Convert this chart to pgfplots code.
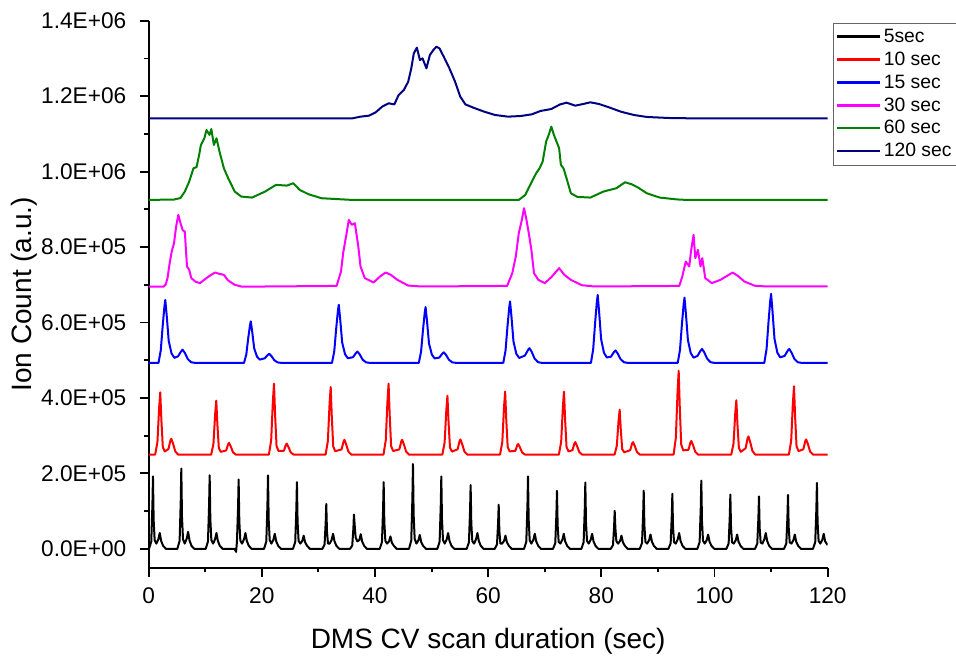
\documentclass[border=0pt]{standalone}
\usepackage{pgfplots}
\pgfplotsset{compat=1.18}
\usepackage{fontspec}
\setmainfont{Liberation Sans}
\definecolor{cnavy}{RGB}{0,0,128}
\definecolor{cgreen}{RGB}{0,128,0}
\definecolor{cmag}{RGB}{255,0,255}
\begin{document}
\begin{tikzpicture}
\useasboundingbox (-111.5pt,-66.2pt) rectangle (605.5pt,425.8pt);
\begin{axis}[
  at={(0pt,0pt)}, anchor=south west,
  scale only axis, width=509.25pt, height=410.25pt,
  xmin=0, xmax=120, ymin=-50000, ymax=1400000,
  axis x line*=bottom, axis y line*=left,
  axis line style={line width=1.4pt,-},
  tick style={black, line width=1.4pt},
  tick align=outside,
  major tick length=6.75pt, minor tick length=3.5pt,
  xtick={0,20,40,60,80,100,120}, xticklabels={0,20,40,60,80,100,120},
  minor x tick num=1,
  ytick={0,200000,400000,600000,800000,1000000,1200000,1400000},
  yticklabels={0.0E+00,2.0E+05,4.0E+05,6.0E+05,8.0E+05,1.0E+06,1.2E+06,1.4E+06},
  minor y tick num=1,
  scaled y ticks=false,
  tick label style={font=\fontsize{17pt}{20pt}\selectfont},
  yticklabel style={xshift=-6.5pt},
  xticklabel style={yshift=-4.5pt},
  xlabel={DMS CV scan duration (sec)},
  xlabel style={at={(axis description cs:0.5,-0.1468)}, anchor=base, font=\fontsize{21pt}{25pt}\selectfont},
  ylabel={Ion Count (a.u.)},
  ylabel style={at={(axis description cs:-0.1725,0.5)}, anchor=base, font=\fontsize{21pt}{25pt}\selectfont},
  legend cell align=left,
  legend style={at={(1.0078,0.9963)}, anchor=north west, draw=black!60, fill=white,
    font=\fontsize{14.5pt}{17.5pt}\selectfont, inner xsep=2pt, inner ysep=2.5pt, row sep=1.6pt},
  legend image code/.code={\draw[#1, line width=1.9pt] (0pt,0pt) -- (32pt,0pt);},
  every axis plot/.append style={line width=1.5pt, line join=round, mark=none},
]
\addplot[color=black, line width=1.5pt] coordinates {
(0,0) (0.06,0) (0.46,19200) (0.66,115200) (0.76,192000) (0.88,76800) (1.06,23040) (1.36,14000) (1.71,25200) (1.96,42000) (2.21,21000) (2.56,8000) (3.06,0)
(5.07,0) (5.47,21300) (5.67,127800) (5.77,213000) (5.89,85200) (6.07,25560) (6.37,14000) (6.72,27000) (6.97,45000) (7.22,22500) (7.57,8000) (8.07,0)
(10.08,0) (10.48,19500) (10.68,117000) (10.78,195000) (10.9,78000) (11.08,23400) (11.38,14000) (11.73,25200) (11.98,42000) (12.23,21000) (12.58,8000) (13.08,0)
(15.2,0) (15.45,-8000) (15.6,18400) (15.8,110400) (15.9,184000) (16.02,73600) (16.2,22080) (16.5,14000) (16.85,25200) (17.1,42000) (17.35,21000) (17.7,8000) (18.2,0)
(20.39,0) (20.79,19500) (20.99,117000) (21.09,195000) (21.21,78000) (21.39,23400) (21.69,14000) (22.04,24000) (22.29,40000) (22.54,20000) (22.89,8000) (23.39,0)
(25.5,0) (25.9,17700) (26.1,106200) (26.2,177000) (26.32,70800) (26.5,21240) (26.8,14000) (27.15,21000) (27.4,35000) (27.65,17500) (28,8000) (28.5,0)
(30.69,0) (31.09,11900) (31.29,71400) (31.39,119000) (31.51,47600) (31.69,14280) (31.99,14000) (32.34,24000) (32.59,40000) (32.84,20000) (33.19,8000) (33.69,0)
(35.58,0) (35.98,9100) (36.18,54600) (36.28,91000) (36.4,65000) (36.58,30000) (36.88,20000) (37.23,23400) (37.48,39000) (37.73,19500) (38.08,8000) (38.58,0)
(40.83,0) (41.23,17700) (41.43,106200) (41.53,177000) (41.65,70800) (41.83,21240) (42.13,14000) (42.48,19800) (42.73,33000) (42.98,16500) (43.33,8000) (43.83,0)
(46.01,0) (46.41,22500) (46.61,135000) (46.71,225000) (46.83,90000) (47.01,27000) (47.31,14000) (47.66,22200) (47.91,37000) (48.16,18500) (48.51,8000) (49.01,0)
(51.02,0) (51.42,19200) (51.62,115200) (51.72,192000) (51.84,76800) (52.02,23040) (52.32,14000) (52.67,25200) (52.92,42000) (53.17,21000) (53.52,8000) (54.02,0)
(56.2,0) (56.6,16900) (56.8,101400) (56.9,169000) (57.02,67600) (57.2,20280) (57.5,14000) (57.85,25200) (58.1,42000) (58.35,21000) (58.7,8000) (59.2,0)
(61.16,0) (61.56,11700) (61.76,70200) (61.86,117000) (61.98,46800) (62.16,14040) (62.46,14000) (62.81,21000) (63.06,35000) (63.31,17500) (63.66,8000) (64.16,0)
(66.34,0) (66.74,19200) (66.94,115200) (67.04,192000) (67.16,76800) (67.34,23040) (67.64,14000) (67.99,24000) (68.24,40000) (68.49,20000) (68.84,8000) (69.34,0)
(71.46,0) (71.86,15400) (72.06,92400) (72.16,154000) (72.28,61600) (72.46,18480) (72.76,14000) (73.11,24000) (73.36,40000) (73.61,20000) (73.96,8000) (74.46,0)
(76.47,0) (76.87,17600) (77.07,105600) (77.17,176000) (77.29,70400) (77.47,21120) (77.77,14000) (78.12,24000) (78.37,40000) (78.62,20000) (78.97,8000) (79.47,0)
(81.66,0) (82.06,10100) (82.26,60600) (82.36,101000) (82.48,55000) (82.66,20000) (82.96,14000) (83.31,21000) (83.56,35000) (83.81,17500) (84.16,8000) (84.66,0)
(86.79,0) (87.19,15400) (87.39,92400) (87.49,154000) (87.61,61600) (87.79,18480) (88.09,14000) (88.44,22800) (88.69,38000) (88.94,19000) (89.29,8000) (89.79,0)
(91.85,0) (92.25,14600) (92.45,87600) (92.55,146000) (92.67,58400) (92.85,17520) (93.15,14000) (93.5,25200) (93.75,42000) (94,21000) (94.35,8000) (94.85,0)
(96.97,0) (97.37,18100) (97.57,108600) (97.67,181000) (97.79,72400) (97.97,21720) (98.27,14000) (98.62,22800) (98.87,38000) (99.12,19000) (99.47,8000) (99.97,0)
(102.1,0) (102.5,14400) (102.7,86400) (102.8,144000) (102.92,57600) (103.1,17280) (103.4,14000) (103.75,22800) (104,38000) (104.25,19000) (104.6,8000) (105.1,0)
(107.16,0) (107.56,13900) (107.76,83400) (107.86,139000) (107.98,55600) (108.16,16680) (108.46,14000) (108.81,25200) (109.06,42000) (109.31,21000) (109.66,8000) (110.16,0)
(112.29,0) (112.69,14300) (112.89,85800) (112.99,143000) (113.11,57200) (113.29,17160) (113.59,14000) (113.94,22800) (114.19,38000) (114.44,19000) (114.79,8000) (115.29,0)
(117.4,0) (117.8,17500) (118,105000) (118.1,175000) (118.22,70000) (118.4,21000) (118.7,14000) (119.05,24000) (119.3,40000) (119.55,20000) (120,10000)
};
\addlegendentry{5sec}
\addplot[color=red, line width=1.5pt] coordinates {
(0,250000) (1.15,250000) (1.55,283000) (1.85,373750) (2.05,415000) (2.25,340750) (2.5,269800) (2.85,258250) (3.5,264700) (3.85,287800) (4.0,292000) (4.3,279400) (4.7,258400) (5.2,250000)
(11.05,250000) (11.45,278600) (11.75,357250) (11.95,393000) (12.15,328650) (12.4,267160) (12.75,257150) (13.7,260850) (14.05,277900) (14.2,281000) (14.5,271700) (14.9,256200) (15.4,250000)
(21.25,250000) (21.65,287600) (21.95,391000) (22.15,438000) (22.35,353400) (22.6,272560) (22.95,259400) (23.9,260150) (24.25,276100) (24.4,279000) (24.7,270300) (25.1,255800) (25.6,250000)
(31.27,250000) (31.67,285800) (31.97,384250) (32.17,429000) (32.37,348450) (32.62,271480) (32.97,258950) (34.1,263650) (34.45,285100) (34.6,289000) (34.9,277300) (35.3,257800) (35.8,250000)
(41.5,250000) (41.9,287600) (42.2,391000) (42.4,438000) (42.6,353400) (42.85,272560) (43.2,259400) (44.3,263650) (44.65,285100) (44.8,289000) (45.1,277300) (45.5,257800) (46.0,250000)
(51.9,250000) (52.3,281200) (52.6,367000) (52.8,406000) (53.0,335800) (53.25,268720) (53.6,257800) (54.6,264000) (54.95,286000) (55.1,290000) (55.4,278000) (55.8,258000) (56.3,250000)
(62.1,250000) (62.5,283400) (62.8,375250) (63.0,417000) (63.2,341850) (63.45,270040) (63.8,258350) (64.8,259800) (65.15,275200) (65.3,278000) (65.6,269600) (66.0,255600) (66.5,250000)
(72.5,250000) (72.9,283400) (73.2,375250) (73.4,417000) (73.6,341850) (73.85,270040) (74.2,258350) (74.9,261550) (75.25,279700) (75.4,283000) (75.7,273100) (76.1,256600) (76.6,250000)
(82.34,250000) (82.74,273800) (83.04,339250) (83.24,369000) (83.44,315450) (83.69,264280) (84.04,255950) (85.1,261550) (85.45,279700) (85.6,283000) (85.9,273100) (86.3,256600) (86.8,250000)
(92.77,250000) (93.17,294400) (93.47,416500) (93.67,472000) (93.87,372100) (94.12,276640) (94.47,261100) (95.4,262600) (95.75,282400) (95.9,286000) (96.2,275200) (96.6,257200) (97.1,250000)
(102.96,250000) (103.36,278800) (103.66,358000) (103.86,394000) (104.06,329200) (104.31,267280) (104.66,257200) (105.5,266800) (105.85,293200) (106.0,298000) (106.3,283600) (106.7,259600) (107.2,250000)
(113.15,250000) (113.55,286200) (113.85,385750) (114.05,431000) (114.25,349550) (114.5,271720) (114.85,259050) (115.7,264000) (116.05,286000) (116.2,290000) (116.5,278000) (116.9,258000) (117.4,250000) (120,250000)
};
\addlegendentry{10 sec}
\addplot[color=blue, line width=1.5pt] coordinates {
(0,493000) (1.74,493000) (2.14,526400) (2.49,593200) (2.79,643300) (2.94,660000) (3.19,618250) (3.54,551450) (4.04,518050) (4.54,506360) (5.2,510500) (5.7,522750) (6.0,528000) (6.4,519250) (6.9,503500) (7.5,494750) (8.2,493000)
(16.85,493000) (17.25,515000) (17.6,559000) (17.9,592000) (18.05,603000) (18.3,575500) (18.65,531500) (19.15,509500) (19.65,501800) (20.5,505000) (21.0,513400) (21.3,517000) (21.7,511000) (22.2,500200) (22.8,494200) (23.5,493000)
(32.4,493000) (32.8,523800) (33.15,585400) (33.45,631600) (33.6,647000) (33.85,608500) (34.2,546900) (34.7,516100) (35.2,505320) (36.1,508000) (36.6,518500) (36.9,523000) (37.3,515500) (37.8,502000) (38.4,494500) (39.1,493000)
(47.74,493000) (48.14,522600) (48.49,581800) (48.79,626200) (48.94,641000) (49.19,604000) (49.54,544800) (50.04,515200) (50.54,504840) (51.36,507000) (51.86,516800) (52.16,521000) (52.56,514000) (53.06,501400) (53.66,494400) (54.36,493000)
(62.67,493000) (63.07,525600) (63.42,590800) (63.72,639700) (63.87,656000) (64.12,615250) (64.47,550050) (64.97,517450) (65.47,506040) (66.5,512500) (67.0,526150) (67.3,532000) (67.7,522250) (68.2,504700) (68.8,494950) (69.5,493000)
(78.16,493000) (78.56,529000) (78.91,601000) (79.21,655000) (79.36,673000) (79.61,628000) (79.96,556000) (80.46,520000) (80.96,507400) (81.7,509500) (82.2,521050) (82.5,526000) (82.9,517750) (83.4,502900) (84.0,494650) (84.7,493000)
(93.5,493000) (93.9,527600) (94.25,596800) (94.55,648700) (94.7,666000) (94.95,622750) (95.3,553550) (95.8,518950) (96.3,506840) (97.0,511500) (97.5,524450) (97.8,530000) (98.2,520750) (98.7,504100) (99.3,494850) (100.0,493000)
(108.8,493000) (109.2,529600) (109.55,602800) (109.85,657700) (110.0,676000) (110.25,630250) (110.6,557050) (111.1,520450) (111.6,507640) (112.4,511500) (112.9,524450) (113.2,530000) (113.6,520750) (114.1,504100) (114.7,494850) (115.4,493000) (120,493000)
};
\addlegendentry{15 sec}
\addplot[color=cmag, line width=1.5pt] coordinates {
(0,695000) (2.6,695000) (3.0,700000) (3.33,717600) (3.71,757300) (4.1,790000) (4.48,810300) (4.86,855000) (5.24,885300) (5.63,863300) (6.01,845000) (6.39,841200) (6.6,790000) (6.78,748500) (7.16,740000) (7.54,717600) (8.3,708000) (9.07,704400) (10.2,717600) (11.2,728000) (11.76,732600) (12.5,729000) (13.29,726400) (14.0,712000) (15.21,700000) (16.5,695000)
(33.22,697000) (33.99,735300) (34.37,783800) (34.98,836800) (35.37,872000) (35.9,858900) (36.44,863300) (37.05,801500) (37.44,748500) (38.2,717600) (39.74,706100) (40.89,722000) (41.88,732600) (42.8,726400) (43.95,713200) (45.87,698000) (48.2,695500)
(63.35,697000) (64.26,730800) (64.88,775000) (65.41,836800) (65.95,872000) (66.33,903000) (66.72,876500) (67.18,836800) (67.64,792600) (68.1,730800) (68.86,713200) (70.01,704400) (71.16,720300) (72.54,744100) (73.46,726400) (74.61,713200) (76.53,699000) (78.8,695500)
(93.78,697000) (94.31,722000) (94.92,761700) (95.54,748500) (95.84,788200) (96.3,832400) (96.61,770600) (97.07,792600) (97.53,748500) (97.84,770600) (98.37,717600) (99.52,704400) (101.06,713200) (103.2,732600) (104.12,723800) (105.27,708800) (107.19,697000) (109.5,695500) (120,695500)
};
\addlegendentry{30 sec}
\addplot[color=cgreen, line width=1.5pt] coordinates {
(0,925000) (4.48,926000) (5.63,930000) (6.39,947100) (7.16,973600) (7.92,1008900) (8.46,1012000) (8.92,1044200) (9.23,1070700) (9.84,1088400) (10.22,1110400) (10.76,1097200) (11.07,1113000) (11.53,1070700) (11.99,1088400) (12.52,1053000) (13.29,1008900) (14.06,982400) (15.21,947100) (16.36,933900) (18.27,931200) (20.57,947100) (22.49,964800) (24.41,963000) (25.55,969200) (26.71,951500) (28.24,940100) (30.54,929500) (34.37,926300) (36,925000)
(65.41,925000) (66.56,938300) (67.72,973600) (68.48,995700) (69.09,1008900) (69.63,1026600) (70.24,1079500) (70.7,1097200) (71.16,1119300) (71.62,1097200) (72.08,1079500) (72.54,1061900) (72.85,1017800) (73.31,1008900) (73.85,982400) (74.61,942700) (75.76,933000) (78.06,931200) (80.36,947100) (82.66,956000) (84.19,971800) (85.34,966600) (86.49,957800) (88.03,942700) (90.33,931200) (93.39,926300) (95,925000) (120,925000)
};
\addlegendentry{60 sec}
\addplot[color=cnavy, line width=1.5pt] coordinates {
(0,1141000) (35.9,1141000) (37.44,1145700) (38.97,1148400) (40.12,1157200) (41.27,1172200) (42.42,1181100) (43.41,1178100) (44.18,1203100) (45.1,1216400) (45.87,1238400) (46.41,1273800) (46.86,1313500) (47.4,1328500) (47.94,1295800) (48.4,1300200) (49.09,1273800) (49.7,1309100) (50.31,1322300) (50.85,1331100) (51.39,1326700) (52.15,1304600) (53.15,1273800) (54.15,1238400) (55.07,1198700) (55.99,1178100) (57.37,1169600) (59.28,1159000) (61.2,1150200) (63.5,1145700) (65.8,1147500) (67.72,1151900) (69.25,1160800) (71.16,1166000) (72.7,1178100) (73.85,1182800) (75.38,1174900) (76.53,1178400) (78.06,1183700) (79.59,1179300) (81.51,1169600) (83.43,1159000) (85.73,1150200) (88.03,1144900) (91.86,1142200) (95.7,1141300) (120,1141000)
};
\addlegendentry{120 sec}
\end{axis}
\end{tikzpicture}
\end{document}
